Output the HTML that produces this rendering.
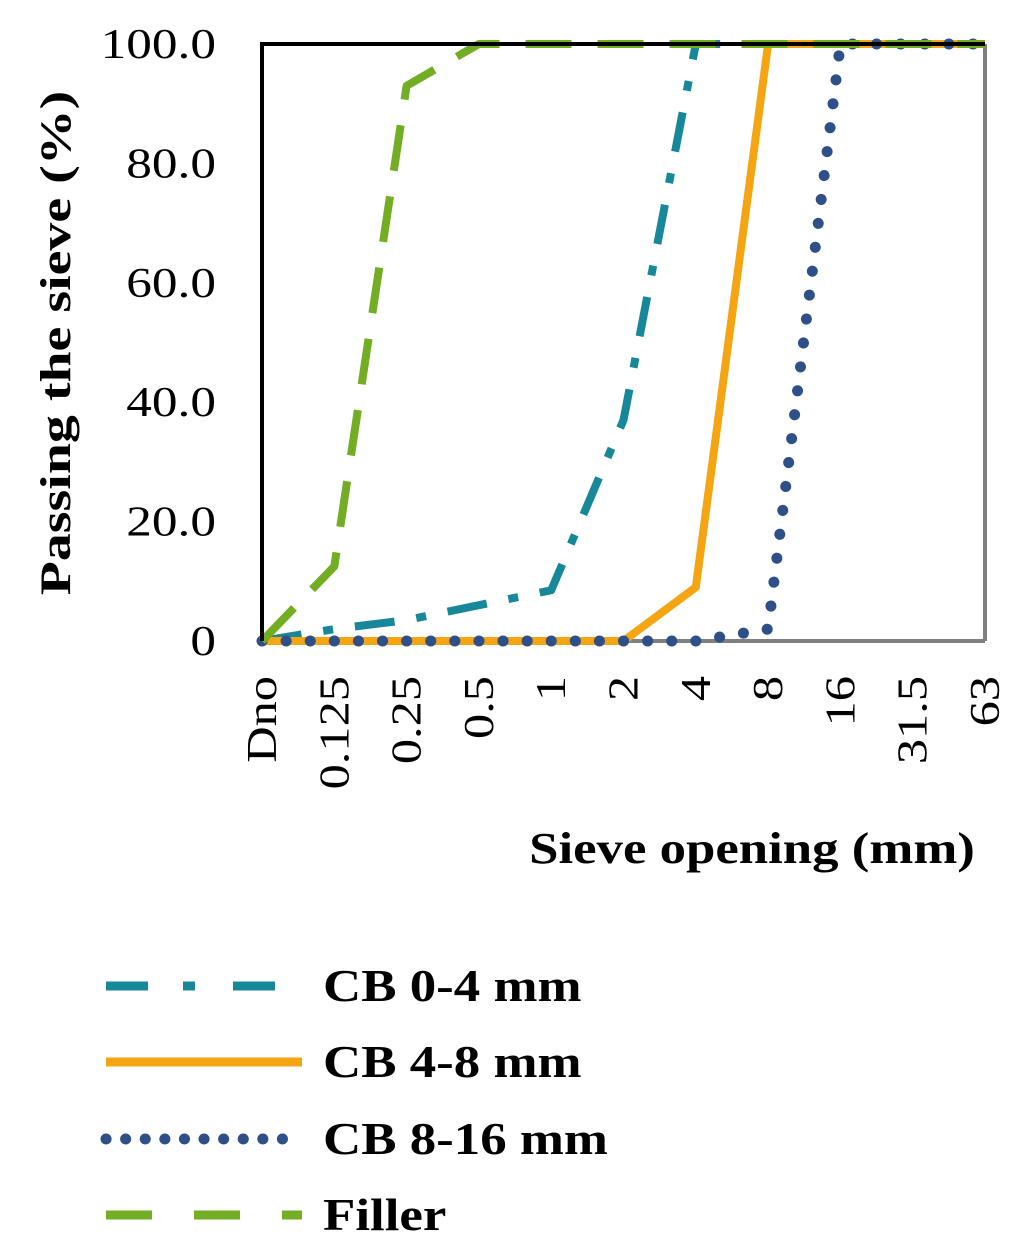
<!DOCTYPE html>
<html><head><meta charset="utf-8"><style>
body{margin:0;background:#fff;}
svg{display:block;font-family:"Liberation Serif",serif;}
</style></head><body>
<svg id="chart" width="1024" height="1252">
<rect x="0" y="0" width="1024" height="1252" fill="#fff"/>
<g id="plot"></g>
<text class="st" data-f="1.3" x="0" y="0" transform="translate(70,343) rotate(-90)" text-anchor="middle" font-size="43" font-weight="bold">Passing the sieve (%)</text>
<text class="st" data-f="1.2" x="752" y="863" text-anchor="middle" font-size="44" font-weight="bold">Sieve opening (mm)</text>
<g id="legend"></g>
</svg>
<script>
const categories=["Dno","0.125","0.25","0.5","1","2","4","8","16","31.5","63"];
const yTicks=[0,20,40,60,80,100];
const yTickLabels=["0","20.0","40.0","60.0","80.0","100.0"];
const seriesNames=["CB 0-4 mm","CB 4-8 mm","CB 8-16 mm","Filler"];
const cb04=[0,2,3.5,6,8.5,37,100,100,100,100,100];
const cb48=[0,0,0,0,0,0,9,100,100,100,100];
const cb816=[0,0,0,0,0,0,0,2,100,100,100];
const filler=[0,12.5,93,100,100,100,100,100,100,100,100];

const NS="http://www.w3.org/2000/svg";
const X0=262,X1=985,Y0=641,Y1=44;
const xs=i=>X0+i*(X1-X0)/(categories.length-1);
const ys=v=>Y0-(v/100)*(Y0-Y1);
const plot=document.getElementById('plot');
const legend=document.getElementById('legend');
function mk(tag,attrs,parent){const e=document.createElementNS(NS,tag);for(const k in attrs)e.setAttribute(k,attrs[k]);parent.appendChild(e);return e;}

const styles=[
 {color:"#17879a",dash:"40,22,10,22",cap:"butt",w:8},
 {color:"#f5a512",dash:"",cap:"butt",w:8},
 {color:"#2e4f88",dash:"0.1,24",cap:"round",w:11},
 {color:"#72ad23",dash:"46,26",cap:"butt",w:8}
];
const legDash=["42,35,12,38","","0.1,19.5","46,42"];
const data=[cb04,cb48,cb816,filler];

let f=mk('line',{x1:X1,y1:Y1,x2:X1,y2:Y0,stroke:"#808080","stroke-width":4},plot);

f=mk('line',{x1:X0,y1:Y0,x2:X1,y2:Y0,stroke:"#808080","stroke-width":4},plot);


yTicks.forEach((t,i)=>{
 const e=mk('text',{x:216,y:ys(t)+14,"text-anchor":"end","font-size":42,"class":"st","data-f":"1.22"},plot);
 e.textContent=yTickLabels[i];
 
 
});
categories.forEach((c,i)=>{
 const e=mk('text',{x:0,y:0,transform:`translate(${xs(i)+14},676) rotate(-90)`,"text-anchor":"end","font-size":42,"class":"st","data-f":"1.2"},plot);
 e.textContent=c;
 
 
});

data.forEach((arr,s)=>{
 const pts=arr.map((v,i)=>xs(i)+","+ys(v)).join(" ");
 const st=styles[s];
 const p=mk('polyline',{points:pts,fill:"none",stroke:st.color,"stroke-width":st.w,"stroke-dasharray":st.dash,"stroke-linecap":st.cap,"stroke-linejoin":"round"},plot);
 
 
});

f=mk('line',{x1:X0,y1:Y1,x2:X1,y2:Y1,stroke:"#000","stroke-width":4},plot);

f=mk('line',{x1:X0,y1:Y1-2,x2:X0,y2:Y0,stroke:"#000","stroke-width":4},plot);


const ly=[986,1062,1139,1215];
seriesNames.forEach((n,s)=>{
 const st=styles[s];
 const l=mk('line',{x1:106,y1:ly[s],x2:302,y2:ly[s],stroke:st.color,"stroke-width":st.cap==="round"?11:9,"stroke-dasharray":legDash[s],"stroke-linecap":st.cap},legend);
 
 
 const t=mk('text',{x:323,y:ly[s]+15,"font-size":46,"font-weight":"bold","class":"st","data-f":"1.15"},legend);
 t.textContent=n;
 
 
});

document.querySelectorAll('text.st').forEach(t=>{
 const k=parseFloat(t.getAttribute('data-f'));
 const L=t.getComputedTextLength();
 t.setAttribute('textLength',(L*k).toFixed(1));
 t.setAttribute('lengthAdjust','spacingAndGlyphs');
});
</script>
</body></html>
